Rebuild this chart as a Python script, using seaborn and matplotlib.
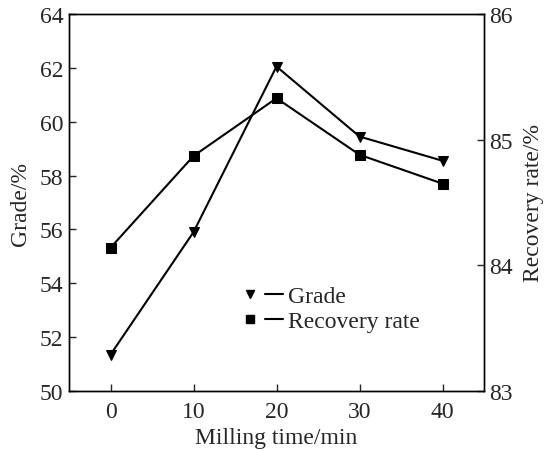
import matplotlib
matplotlib.use("Agg")
import matplotlib.pyplot as plt
from matplotlib.lines import Line2D
from matplotlib.legend_handler import HandlerTuple
import seaborn as sns
import pandas as pd

milling_time = [0, 10, 20, 30, 40]
grade = [51.35, 55.9, 62.05, 59.45, 58.55]
recovery = [84.14, 84.87, 85.33, 84.88, 84.65]

sns.set_style("ticks")
plt.rcParams["font.family"] = ["Liberation Serif", "DejaVu Serif"]
plt.rcParams["mathtext.fontset"] = "stix"

df = pd.DataFrame({"time": milling_time, "grade": grade, "recovery": recovery})

fig = plt.figure(figsize=(5.44, 4.52), dpi=100)
ax = fig.add_axes([69 / 544, 1 - 392 / 452, (484 - 69) / 544, (392 - 15) / 452])
ax2 = ax.twinx()

sns.lineplot(data=df, x="time", y="grade", ax=ax, color="black", lw=1.5,
             marker="v", markersize=7, markeredgecolor="black")
sns.lineplot(data=df, x="time", y="recovery", ax=ax2, color="black", lw=1.5,
             marker="s", markersize=6.5, markeredgecolor="black")

ax.set_xlim(-5, 45)
ax.set_ylim(50, 64)
ax2.set_ylim(83, 86)
ax.set_xticks(milling_time)
ax.set_yticks(range(50, 65, 2))
ax2.set_yticks([83, 84, 85, 86])

fs = 17
ax.set_xlabel("Milling time/min", fontsize=fs, labelpad=4)
ax.set_ylabel("Grade/%", fontsize=fs, labelpad=6)
ax2.set_ylabel("Recovery rate/%", fontsize=fs, labelpad=7)

for a in (ax, ax2):
    a.tick_params(direction="in", length=5, width=1, labelsize=fs, pad=4)
    for s in a.spines.values():
        s.set_linewidth(1.0)
        s.set_color("black")
ax.tick_params(axis="x", pad=7)
ax.tick_params(axis="y", right=False)
ax2.tick_params(axis="y", left=False)

# legend entries: marker followed by a short dash
dash = Line2D([], [], color="black", lw=1.5)
handles = [
    (Line2D([], [], color="black", marker="v", linestyle="none", markersize=6), dash),
    (Line2D([], [], color="black", marker="s", linestyle="none", markersize=5.5), dash),
]
ax.legend(handles, ["Grade", "Recovery rate"], loc="center left",
          bbox_to_anchor=(0.415, 0.217), frameon=False, fontsize=fs,
          handler_map={tuple: HandlerTuple(ndivide=None, pad=0.25)},
          handlelength=1.76, handletextpad=0.21, labelspacing=0.15,
          borderpad=0, borderaxespad=0)

fig.savefig("out.png", dpi=100)
